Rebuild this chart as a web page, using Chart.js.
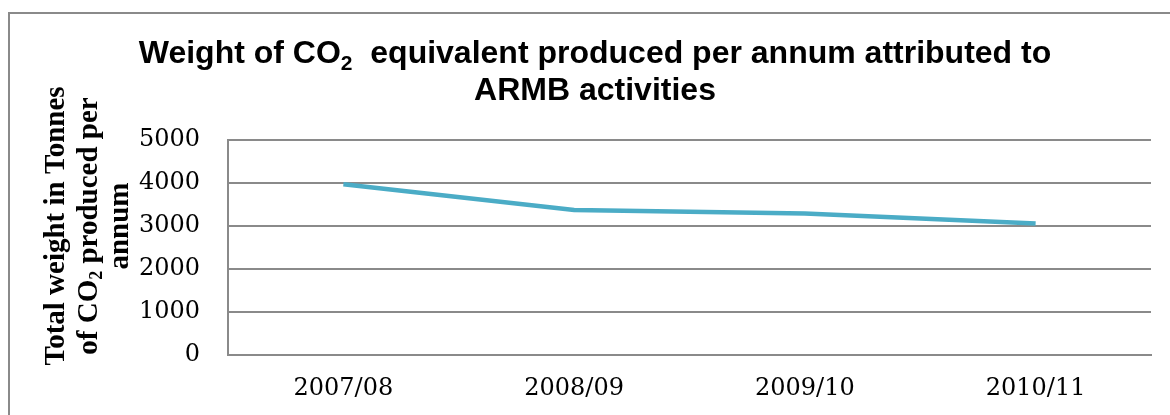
<!DOCTYPE html>
<html>
<head>
<meta charset="utf-8">
<script src="https://cdn.jsdelivr.net/npm/chart.js@4.4.1/dist/chart.umd.min.js"></script>
<style>
  html, body { margin: 0; padding: 0; background: #fff; width: 1170px; height: 415px; overflow: hidden; }
  #frame { position: absolute; left: 8px; top: 12px; width: 1200px; height: 450px; border-left: 2px solid #8a8a8a; border-top: 2px solid #8a8a8a; }
  #co2Chart { position: absolute; left: 0; top: 0; }
</style>
</head>
<body>
<div id="frame"></div>
<canvas id="co2Chart" width="1170" height="415"></canvas>
<script>
// ===== Data =====
const categories = ['2007/08', '2008/09', '2009/10', '2010/11'];
const co2Tonnes = [3970, 3370, 3290, 3060];
const yMin = 0, yMax = 5000, yStep = 1000;

const titleLines = [
  [{ t: 'Weight of CO' }, { t: '2', sub: true }, { t: '  equivalent produced per annum attributed to' }],
  [{ t: 'ARMB activities' }]
];
const yTitleLines = [
  [{ t: 'Total weight in Tonnes' }],
  [{ t: 'of CO' }, { t: '2', sub: true }, { t: ' produced per' }],
  [{ t: 'annum' }]
];

// draw a line of text that may contain subscript pieces, centred on x
function drawRich(ctx, parts, x, y, font, subFont, subShift) {
  let w = 0;
  parts.forEach(p => { ctx.font = p.sub ? subFont : font; w += ctx.measureText(p.t).width; });
  let cx = x - w / 2;
  ctx.textAlign = 'left';
  ctx.textBaseline = 'alphabetic';
  parts.forEach(p => {
    ctx.font = p.sub ? subFont : font;
    ctx.fillText(p.t, cx, p.sub ? y + subShift : y);
    cx += ctx.measureText(p.t).width;
  });
}

const titlesPlugin = {
  id: 'titles',
  afterDraw(chart) {
    const ctx = chart.ctx;
    ctx.save();
    ctx.fillStyle = '#000';
    // main title
    const tf = 'bold 32px "Liberation Sans", Arial, sans-serif';
    const tsf = 'bold 21px "Liberation Sans", Arial, sans-serif';
    drawRich(ctx, titleLines[0], 595, 63, tf, tsf, 7);
    drawRich(ctx, titleLines[1], 595, 100, tf, tsf, 7);
    // y axis title, rotated
    const yf = 'bold 29px "Liberation Serif", "Times New Roman", serif';
    const ysf = 'bold 18px "Liberation Serif", "Times New Roman", serif';
    ctx.translate(0, 226);
    ctx.rotate(-Math.PI / 2);
    const cols = [64, 97, 128];
    yTitleLines.forEach((ln, i) => drawRich(ctx, ln, 0, cols[i], yf, ysf, 5));
    ctx.restore();
  }
};

new Chart(document.getElementById('co2Chart'), {
  type: 'line',
  data: {
    labels: categories,
    datasets: [{
      data: co2Tonnes,
      borderColor: '#4bacc6',
      borderWidth: 4.5,
      tension: 0,
      pointRadius: 0,
      fill: false
    }]
  },
  options: {
    responsive: false,
    animation: false,
    devicePixelRatio: 1,
    layout: { padding: { top: 140, right: 19, bottom: 0, left: 0 } },
    plugins: { legend: { display: false }, tooltip: { enabled: false } },
    scales: {
      y: {
        min: yMin, max: yMax,
        ticks: { stepSize: yStep, color: '#000', padding: 28, callback: v => String(v), font: { family: '"DejaVu Serif", serif', size: 24 } },
        grid: { color: '#8a8a8a', lineWidth: 2, drawTicks: false },
        border: { color: '#8a8a8a', width: 2 },
        afterFit: s => { s.width = 228; }
      },
      x: {
        offset: true,
        ticks: { color: '#000', padding: 19, font: { family: '"DejaVu Serif", serif', size: 24 } },
        grid: { display: false, drawTicks: false },
        border: { color: '#8a8a8a', width: 2 },
        afterFit: s => { s.height = 60; }
      }
    }
  },
  plugins: [titlesPlugin]
});
</script>
</body>
</html>
